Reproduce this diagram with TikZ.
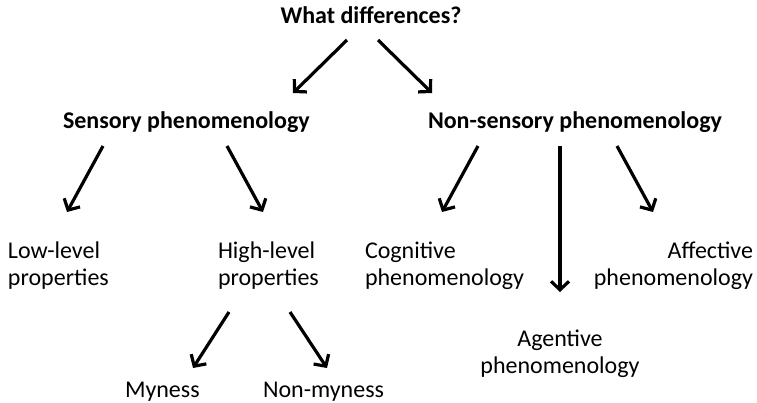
\documentclass[tikz,border=0pt]{standalone}
\usepackage{fontspec}
\setmainfont{Carlito}
\usetikzlibrary{arrows.meta,calc}
\tikzset{
  lbl/.style={inner sep=0pt, outer sep=0pt, font=\fontsize{24}{27}\selectfont},
  hdr/.style={lbl, font=\fontsize{24}{27}\selectfont\bfseries},
  arr/.style={line width=3.2pt, -{Straight Barb[length=8.5pt,width=18pt,line width=3.2pt]}}
}
\newcommand{\mlL}[1]{\begin{tabular}[t]{@{}l@{}}#1\end{tabular}}
\newcommand{\mlR}[1]{\begin{tabular}[t]{@{}r@{}}#1\end{tabular}}
\newcommand{\mlC}[1]{\begin{tabular}[t]{@{}c@{}}#1\end{tabular}}
\begin{document}
\begin{tikzpicture}[x=1pt,y=-1pt]
\useasboundingbox (0,0) rectangle (757,402);
% nodes
\node[hdr, anchor=base] (title) at (371,23) {What differences?};
\node[hdr, anchor=base west] (sens) at (63,128) {Sensory phenomenology};
\node[hdr, anchor=base west] (nons) at (428,128) {Non-sensory phenomenology};
\node[lbl, anchor=base west] (low) at (8,258) {\mlL{Low-level\\properties}};
\node[lbl, anchor=base west] (high) at (218,258) {\mlL{High-level\\properties}};
\node[lbl, anchor=base west] (cog) at (365,258) {\mlL{Cognitive\\phenomenology}};
\node[lbl, anchor=base east] (aff) at (753,258) {\mlR{Affective\\phenomenology}};
\node[lbl, anchor=base] (agent) at (560,346) {\mlC{Agentive\\phenomenology}};
\node[lbl, anchor=base west] (my) at (125,397) {Myness};
\node[lbl, anchor=base west] (nonmy) at (263,397) {Non-myness};
% connectors
\draw[arr] ($(title.base)+(-24,17)$) -- ($(title.base)+(-78,70)$);
\draw[arr] ($(title.base)+(7,17)$) -- ($(title.base)+(61,70)$);
\draw[arr] ($(sens.base west)+(40,18)$) -- ($(low.base west)+(59,-46)$);
\draw[arr] ($(sens.base west)+(164,18)$) -- ($(high.base west)+(45,-46)$);
\draw[arr] ($(high.base west)+(11,54)$) -- ($(my.base west)+(68,-29)$);
\draw[arr] ($(high.base west)+(72,54)$) -- ($(nonmy.base west)+(64,-29)$);
\draw[arr] ($(nons.base west)+(50,18)$) -- ($(cog.base west)+(77,-46)$);
\draw[arr] ($(nons.base west)+(132,18)$) -- ($(agent.base)+(0,-54)$);
\draw[arr] ($(nons.base west)+(189,18)$) -- ($(aff.base east)+(-100,-46)$);
\end{tikzpicture}
\end{document}
